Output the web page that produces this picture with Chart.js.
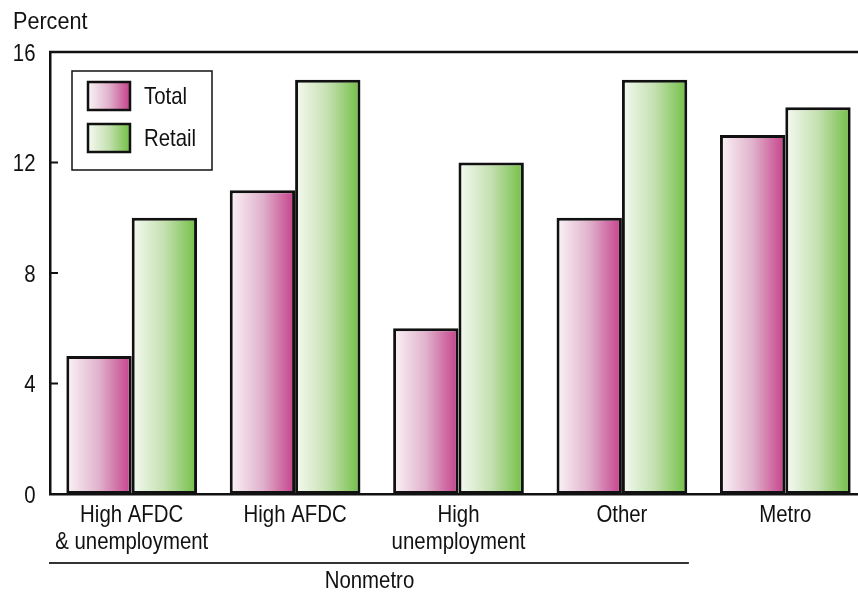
<!DOCTYPE html>
<html>
<head>
<meta charset="utf-8">
<script src="https://cdn.jsdelivr.net/npm/chart.js@4"></script>
<style>
  html, body { margin: 0; padding: 0; background: #fff; overflow: hidden; }
  #wrap { width: 858px; height: 592px; overflow: hidden; }
</style>
</head>
<body>
<div id="wrap"><canvas id="barChart" width="880" height="592"></canvas></div>
<script>
const categories = [
  ['High AFDC', '& unemployment'],
  'High AFDC',
  ['High', 'unemployment'],
  'Other',
  'Metro'
];
const totalValues = [5, 11, 6, 10, 13];
const retailValues = [10, 15, 12, 15, 14];
const yTicks = [0, 4, 8, 12, 16];

const FONT = "'Liberation Sans', Arial, sans-serif";
const FONT_SIZE = 24;
const SQUEEZE = 0.85; // narrow the glyphs like a condensed face
const INK = '#111';

const gradStops = {
  Total: ['#fbf4f7', '#e0b2cc', '#c53f8a'],
  Retail: ['#f6faf2', '#c4e0b0', '#72bf44']
};

function makeGrad(ctx, x0, x1, stops) {
  const g = ctx.createLinearGradient(x0, 0, x1, 0);
  g.addColorStop(0, stops[0]);
  g.addColorStop(0.5, stops[1]);
  g.addColorStop(1, stops[2]);
  return g;
}

function narrowText(ctx, text, x, y, align, squeeze) {
  ctx.save();
  ctx.translate(x, y);
  ctx.scale(squeeze || SQUEEZE, 1);
  ctx.textAlign = align;
  ctx.textBaseline = 'alphabetic';
  ctx.fillText(text, 0, 0);
  ctx.restore();
}

// ---- Gradient fills, labels, inward ticks, legend box, Nonmetro bracket ----
const decorPlugin = {
  id: 'decor',
  beforeDatasetsDraw(chart) {
    const ctx = chart.ctx;
    chart.data.datasets.forEach((ds, i) => {
      const meta = chart.getDatasetMeta(i);
      meta.data.forEach(bar => {
        const g = makeGrad(ctx, bar.x - bar.width / 2, bar.x + bar.width / 2, gradStops[ds.label]);
        bar.options = Object.assign({}, bar.options, { backgroundColor: g });
      });
    });
  },
  afterDraw(chart) {
    const ctx = chart.ctx;
    const area = chart.chartArea;
    const y = chart.scales.y;
    const x = chart.scales.x;
    ctx.save();
    ctx.strokeStyle = INK;
    ctx.fillStyle = INK;
    ctx.font = FONT_SIZE + 'px ' + FONT;

    // top frame line
    ctx.lineWidth = 2.5;
    ctx.beginPath();
    ctx.moveTo(area.left - 1, area.top);
    ctx.lineTo(chart.width, area.top);
    ctx.stroke();

    // y ticks (inward) and their labels
    ctx.lineWidth = 2;
    y.ticks.forEach(t => {
      const py = y.getPixelForValue(t.value);
      ctx.beginPath();
      ctx.moveTo(area.left, py);
      ctx.lineTo(area.left + 8, py);
      ctx.stroke();
      narrowText(ctx, String(t.value), 35.5, py + 8.5, 'right');
    });

    // x category labels
    categories.forEach((c, i) => {
      const px = x.getPixelForValue(i);
      const lines = Array.isArray(c) ? c : [c];
      lines.forEach((ln, k) => narrowText(ctx, ln, px, 522 + k * 27, 'center'));
    });

    // "Percent" label
    narrowText(ctx, 'Percent', 13, 29, 'left', 0.9);

    // Nonmetro bracket
    const x3 = x.getPixelForValue(3);
    const half = (x.getPixelForValue(1) - x.getPixelForValue(0)) / 2;
    const lineEnd = x3 + half * 0.82;
    ctx.lineWidth = 1.8;
    ctx.strokeStyle = '#333';
    ctx.beginPath();
    ctx.moveTo(area.left - 1, 563);
    ctx.lineTo(lineEnd, 563);
    ctx.stroke();
    narrowText(ctx, 'Nonmetro', (area.left + lineEnd) / 2, 588, 'center');

    // legend box
    ctx.lineWidth = 1.5;
    ctx.strokeStyle = INK;
    ctx.fillStyle = '#fff';
    ctx.fillRect(72, 71, 140, 99);
    ctx.strokeRect(72, 71, 140, 99);
    chart.data.datasets.forEach((ds, i) => {
      const top = 82 + i * 42;
      ctx.fillStyle = makeGrad(ctx, 88, 130, gradStops[ds.label]);
      ctx.fillRect(88, top, 42, 28);
      ctx.lineWidth = 2.5;
      ctx.strokeRect(88, top, 42, 28);
      ctx.fillStyle = INK;
      narrowText(ctx, ds.label, 144, top + 22, 'left');
    });
    ctx.restore();
  }
};

new Chart(document.getElementById('barChart').getContext('2d'), {
  type: 'bar',
  data: {
    labels: categories,
    datasets: [
      {
        label: 'Total',
        data: totalValues,
        backgroundColor: gradStops.Total[1],
        borderColor: INK,
        borderWidth: 3,
        borderSkipped: false,
        categoryPercentage: 0.8,
        barPercentage: 1.0
      },
      {
        label: 'Retail',
        data: retailValues,
        backgroundColor: gradStops.Retail[1],
        borderColor: INK,
        borderWidth: 3,
        borderSkipped: false,
        categoryPercentage: 0.8,
        barPercentage: 1.0
      }
    ]
  },
  options: {
    responsive: false,
    animation: false,
    layout: { padding: { top: 52, right: 13, left: 0, bottom: 0 } },
    plugins: {
      legend: { display: false },
      tooltip: { enabled: false }
    },
    scales: {
      x: {
        grid: { display: false, drawTicks: false },
        border: { color: INK, width: 2.5 },
        ticks: { display: false },
        afterFit: s => { s.height = 98; }
      },
      y: {
        min: 0,
        max: 16,
        grid: { display: false, drawTicks: false },
        border: { color: INK, width: 2.5 },
        afterBuildTicks: s => { s.ticks = yTicks.map(v => ({ value: v })); },
        ticks: { display: false },
        afterFit: s => { s.width = 50; }
      }
    }
  },
  plugins: [decorPlugin]
});
</script>
</body>
</html>
